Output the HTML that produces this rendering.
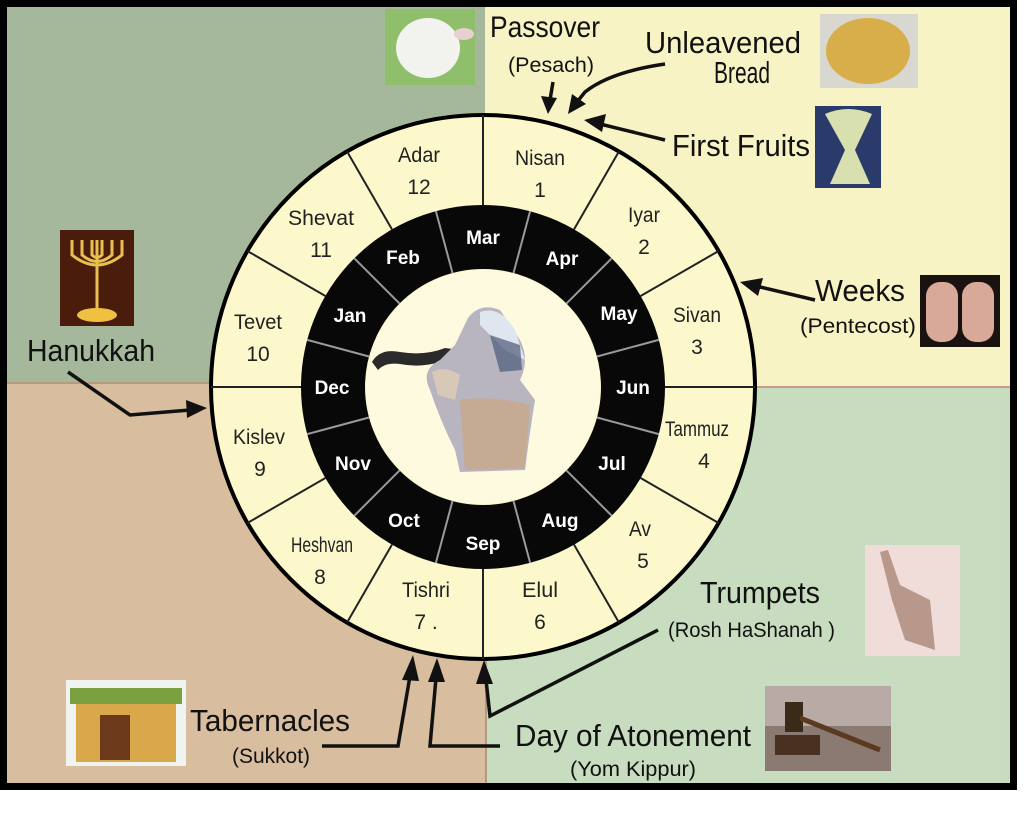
<!DOCTYPE html>
<html><head><meta charset="utf-8"><style>
html,body{margin:0;padding:0;background:#fff;}
svg{display:block;}
text{font-family:"Liberation Sans",Arial,sans-serif;}
</style></head><body>
<svg width="1024" height="840" viewBox="0 0 1024 840" xmlns="http://www.w3.org/2000/svg">
<rect x="0" y="0" width="1024" height="840" fill="#fff"/>
<rect x="6" y="6" width="479" height="377" fill="#a6b89c"/>
<rect x="485" y="6" width="526" height="381" fill="#f8f3c4"/>
<rect x="6" y="383" width="480" height="401" fill="#d8bd9f"/>
<rect x="486" y="387" width="525" height="397" fill="#c8dcbf"/>
<line x1="6" y1="383" x2="485" y2="383" stroke="#b89a7c" stroke-width="2"/>
<line x1="485" y1="387" x2="1011" y2="387" stroke="#c99a8a" stroke-width="2"/>
<line x1="486" y1="387" x2="486" y2="784" stroke="#a88a70" stroke-width="1.5"/>
<rect x="3.5" y="3.5" width="1010" height="783" fill="none" stroke="#000" stroke-width="7"/>

<circle cx="483" cy="387" r="272" fill="#fcf8cc" stroke="#000" stroke-width="4"/>
<circle cx="483" cy="387" r="150" fill="none" stroke="#080808" stroke-width="64"/>
<circle cx="483" cy="387" r="117" fill="#fdfae0"/>
<g stroke="#222" stroke-width="2">
<line x1="483" y1="205" x2="483" y2="115"/>
<line x1="574" y1="229.4" x2="619" y2="151.4"/>
<line x1="640.6" y1="296" x2="718.6" y2="251"/>
<line x1="665" y1="387" x2="755" y2="387"/>
<line x1="640.6" y1="478" x2="718.6" y2="523"/>
<line x1="574" y1="544.6" x2="619" y2="622.6"/>
<line x1="483" y1="569" x2="483" y2="659"/>
<line x1="392" y1="544.6" x2="347" y2="622.6"/>
<line x1="325.4" y1="478" x2="247.4" y2="523"/>
<line x1="301" y1="387" x2="211" y2="387"/>
<line x1="325.4" y1="296" x2="247.4" y2="251"/>
<line x1="392" y1="229.4" x2="347" y2="151.4"/>
</g>
<g stroke="#9a9a9a" stroke-width="2">
<line x1="513.5" y1="273" x2="530.1" y2="211.2"/>
<line x1="566.4" y1="303.6" x2="611.7" y2="258.3"/>
<line x1="597" y1="356.5" x2="658.8" y2="339.9"/>
<line x1="597" y1="417.5" x2="658.8" y2="434.1"/>
<line x1="566.4" y1="470.4" x2="611.7" y2="515.7"/>
<line x1="513.5" y1="501" x2="530.1" y2="562.8"/>
<line x1="452.5" y1="501" x2="435.9" y2="562.8"/>
<line x1="399.6" y1="470.4" x2="354.3" y2="515.7"/>
<line x1="369" y1="417.5" x2="307.2" y2="434.1"/>
<line x1="369" y1="356.5" x2="307.2" y2="339.9"/>
<line x1="399.6" y1="303.6" x2="354.3" y2="258.3"/>
<line x1="452.5" y1="273" x2="435.9" y2="211.2"/>
</g>
<g font-size="21" fill="#222" text-anchor="middle" lengthAdjust="spacingAndGlyphs">
<text x="540" y="165" textLength="50" lengthAdjust="spacingAndGlyphs">Nisan</text><text x="540" y="197">1</text>
<text x="644" y="222" textLength="32" lengthAdjust="spacingAndGlyphs">Iyar</text><text x="644" y="254">2</text>
<text x="697" y="322" textLength="48" lengthAdjust="spacingAndGlyphs">Sivan</text><text x="697" y="354">3</text>
<text x="697" y="436" textLength="64" lengthAdjust="spacingAndGlyphs">Tammuz</text><text x="704" y="468">4</text>
<text x="640" y="536" textLength="22" lengthAdjust="spacingAndGlyphs">Av</text><text x="643" y="568">5</text>
<text x="540" y="597" textLength="36" lengthAdjust="spacingAndGlyphs">Elul</text><text x="540" y="629">6</text>
<text x="426" y="597" textLength="48" lengthAdjust="spacingAndGlyphs">Tishri</text><text x="426" y="629">7 .</text>
<text x="322" y="552" textLength="62" lengthAdjust="spacingAndGlyphs">Heshvan</text><text x="320" y="584">8</text>
<text x="259" y="444" textLength="52" lengthAdjust="spacingAndGlyphs">Kislev</text><text x="260" y="476">9</text>
<text x="258" y="329" textLength="48" lengthAdjust="spacingAndGlyphs">Tevet</text><text x="258" y="361">10</text>
<text x="321" y="225" textLength="66" lengthAdjust="spacingAndGlyphs">Shevat</text><text x="321" y="257">11</text>
<text x="419" y="162" textLength="42" lengthAdjust="spacingAndGlyphs">Adar</text><text x="419" y="194">12</text>
</g>
<g font-size="19" font-weight="bold" fill="#fff" text-anchor="middle">
<text x="483" y="244">Mar</text>
<text x="562" y="265">Apr</text>
<text x="619" y="320">May</text>
<text x="633" y="394">Jun</text>
<text x="612" y="470">Jul</text>
<text x="560" y="527">Aug</text>
<text x="483" y="550">Sep</text>
<text x="404" y="527">Oct</text>
<text x="353" y="470">Nov</text>
<text x="332" y="394">Dec</text>
<text x="350" y="322">Jan</text>
<text x="403" y="264">Feb</text>
</g>
<g>
<path d="M372 362 Q380 348 400 352 Q425 356 445 348 L460 350 L458 360 L440 362 Q420 368 400 364 Q385 362 378 370 Z" fill="#2a2a2a"/>
<path d="M468 318 Q480 302 500 310 L520 340 Q530 360 520 380 L535 400 Q530 430 525 470 L460 472 L455 450 Q440 420 430 390 Q420 370 440 360 L455 345 Z" fill="#b8b4c0"/>
<path d="M480 312 Q500 305 515 330 L525 360 L505 350 Q490 335 480 325 Z" fill="#dfe6f0"/>
<path d="M490 335 L520 345 L522 370 L500 372 Z" fill="#4a5a78" opacity="0.7"/>
<path d="M460 400 Q490 395 530 405 L525 468 L465 470 Z" fill="#c8a888" opacity="0.8"/>
<path d="M432 372 Q445 365 460 375 L455 400 L438 395 Z" fill="#d8c8b8"/>
</g>

<rect x="385" y="9" width="90" height="76" fill="#8fbf6a"/>
<ellipse cx="428" cy="48" rx="32" ry="30" fill="#f2f2ee"/>
<ellipse cx="464" cy="34" rx="10" ry="6" fill="#e8d0d0"/>
<rect x="820" y="14" width="98" height="74" fill="#d8d8d0"/>
<ellipse cx="868" cy="51" rx="42" ry="33" fill="#d8ae4a"/>
<rect x="815" y="106" width="66" height="82" fill="#2a3a6a"/>
<path d="M825 114 Q848 104 872 114 L855 150 L870 184 L830 184 L845 150 Z" fill="#d8e0b0"/>
<rect x="920" y="275" width="80" height="72" fill="#1a1210"/>
<rect x="926" y="282" width="32" height="60" rx="14" fill="#d8a898"/>
<rect x="962" y="282" width="32" height="60" rx="14" fill="#d8a898"/>
<rect x="60" y="230" width="74" height="96" fill="#4a1c0c"/>
<path d="M72 240 L72 255 Q97 275 122 255 L122 240 M82 240 L82 255 Q97 268 112 255 L112 240 M92 240 L92 255 Q97 260 102 255 L102 240 M97 240 L97 308" stroke="#e8c050" stroke-width="3" fill="none"/>
<ellipse cx="97" cy="315" rx="20" ry="7" fill="#f0c040"/>
<rect x="865" y="545" width="95" height="111" fill="#f0dcd8"/>
<path d="M880 552 L892 600 L905 640 L935 650 L930 600 L900 585 L888 550 Z" fill="#b8988a"/>
<rect x="765" y="686" width="126" height="85" fill="#8a7a72"/>
<rect x="765" y="686" width="126" height="40" fill="#b8aaa4"/>
<rect x="785" y="702" width="18" height="30" fill="#3a2a18"/>
<line x1="800" y1="718" x2="880" y2="750" stroke="#5a3a20" stroke-width="5"/>
<rect x="775" y="735" width="45" height="20" fill="#4a3020"/>
<rect x="66" y="680" width="120" height="86" fill="#f0f4f0"/>
<rect x="76" y="700" width="100" height="62" fill="#d9a84a"/>
<rect x="70" y="688" width="112" height="16" fill="#7aa040"/>
<rect x="100" y="715" width="30" height="45" fill="#6a3a1a"/>

<g fill="#111">
<text x="490" y="37" font-size="30" textLength="110" lengthAdjust="spacingAndGlyphs">Passover</text>
<text x="508" y="72" font-size="21" textLength="86" lengthAdjust="spacingAndGlyphs">(Pesach)</text>
<text x="645" y="53" font-size="31" textLength="156" lengthAdjust="spacingAndGlyphs">Unleavened</text>
<text x="714" y="83" font-size="31" textLength="56" lengthAdjust="spacingAndGlyphs">Bread</text>
<text x="672" y="156" font-size="31" textLength="138" lengthAdjust="spacingAndGlyphs">First Fruits</text>
<text x="815" y="301" font-size="31" textLength="90" lengthAdjust="spacingAndGlyphs">Weeks</text>
<text x="800" y="333" font-size="21" textLength="116" lengthAdjust="spacingAndGlyphs">(Pentecost)</text>
<text x="27" y="361" font-size="31" textLength="128" lengthAdjust="spacingAndGlyphs">Hanukkah</text>
<text x="700" y="603" font-size="31" textLength="120" lengthAdjust="spacingAndGlyphs">Trumpets</text>
<text x="668" y="637" font-size="21" textLength="167" lengthAdjust="spacingAndGlyphs">(Rosh HaShanah )</text>
<text x="515" y="746" font-size="31" textLength="236" lengthAdjust="spacingAndGlyphs">Day of Atonement</text>
<text x="570" y="776" font-size="21" textLength="126" lengthAdjust="spacingAndGlyphs">(Yom Kippur)</text>
<text x="190" y="731" font-size="31" textLength="160" lengthAdjust="spacingAndGlyphs">Tabernacles</text>
<text x="232" y="763" font-size="21" textLength="78" lengthAdjust="spacingAndGlyphs">(Sukkot)</text>
</g>

<g stroke="#111" stroke-width="3.5" fill="none">
<path d="M553 82 L550 100"/>
<path d="M665 64 Q610 72 585 92 L577 102"/>
<path d="M665 140 L600 124"/>
<path d="M815 300 L760 287"/>
<path d="M68 372 L130 415 L190 410"/>
<path d="M322 746 L398 746 L410 676"/>
<path d="M500 746 L430 746 L436 678"/>
<path d="M658 630 L490 716 L486 680"/>
</g>
<g fill="#111">
<polygon points="548,114 541,96 557,98"/>
<polygon points="568,114 572,94 586,104"/>
<polygon points="584,120 606,114 602,132"/>
<polygon points="740,282 763,278 758,296"/>
<polygon points="207,408 186,400 187,418"/>
<polygon points="413,655 402,680 419,681"/>
<polygon points="437,658 428,682 445,682"/>
<polygon points="484,660 476,684 493,684"/>
</g>
</svg>
</body></html>
